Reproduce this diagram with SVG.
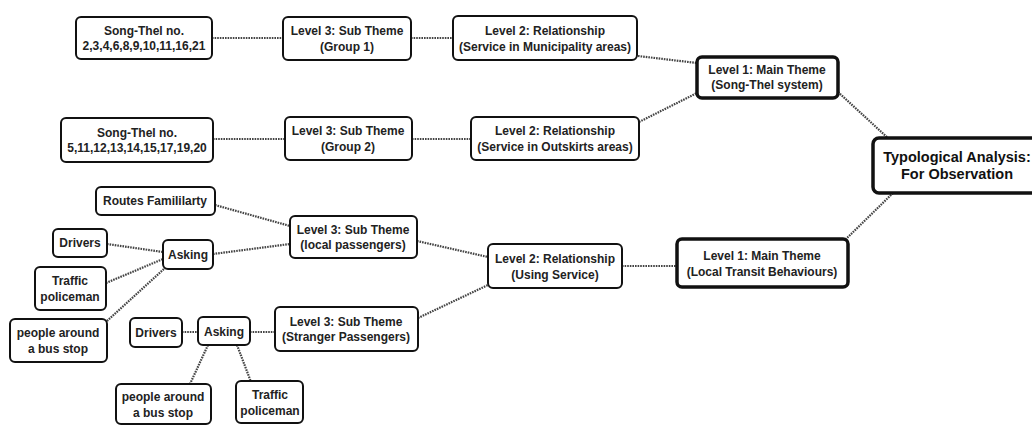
<svg xmlns="http://www.w3.org/2000/svg" width="1032" height="425" viewBox="0 0 1032 425">
<style>
.b{fill:#fff;stroke:#111;stroke-width:2}
.k{fill:#fff;stroke:#111;stroke-width:3.5}
.t{font-family:"Liberation Sans",Arial,sans-serif;font-weight:bold;font-size:12px;fill:#222;text-anchor:middle}
.tl{font-family:"Liberation Sans",Arial,sans-serif;font-weight:bold;font-size:14.5px;fill:#111;text-anchor:middle}
.c line{stroke:#444;stroke-width:2.2;stroke-dasharray:1.6 1}
</style>
<rect width="1032" height="425" fill="#fff"/>
<g class="c" id="connectors">
<line x1="212" y1="38" x2="283" y2="38"/>
<line x1="411" y1="38" x2="453" y2="38"/>
<line x1="638" y1="56" x2="697" y2="63"/>
<line x1="639" y1="122" x2="697" y2="93"/>
<line x1="213" y1="139" x2="285" y2="139"/>
<line x1="412" y1="139" x2="471" y2="139"/>
<line x1="838" y1="92" x2="889" y2="139"/>
<line x1="893" y1="193" x2="845" y2="240"/>
<line x1="622" y1="266" x2="677" y2="266"/>
<line x1="417" y1="241" x2="488" y2="257"/>
<line x1="418" y1="318" x2="488" y2="285"/>
<line x1="215" y1="205" x2="290" y2="226"/>
<line x1="213" y1="254" x2="290" y2="244"/>
<line x1="107" y1="244" x2="163" y2="252"/>
<line x1="106" y1="283" x2="163" y2="259"/>
<line x1="107" y1="321" x2="165" y2="268"/>
<line x1="182" y1="332" x2="198" y2="332"/>
<line x1="250" y1="332" x2="275" y2="332"/>
<line x1="208" y1="345" x2="190" y2="384"/>
<line x1="237" y1="345" x2="251" y2="382"/>
</g>
<g id="n_songthel1"><rect class="b" x="76" y="17" width="136" height="42" rx="5"/><text class="t" x="144" y="35">Song-Thel no.</text><text class="t" x="144" y="50">2,3,4,6,8,9,10,11,16,21</text></g>
<g id="n_l3g1"><rect class="b" x="283" y="17" width="128" height="43" rx="5"/><text class="t" x="347" y="35">Level 3: Sub Theme</text><text class="t" x="347" y="51">(Group 1)</text></g>
<g id="n_l2mun"><rect class="b" x="453" y="16" width="184" height="44" rx="5"/><text class="t" x="545" y="35">Level 2: Relationship</text><text class="t" x="545" y="51">(Service in Municipality areas)</text></g>
<g id="n_l1song"><rect class="k" x="697" y="57" width="141" height="41" rx="5"/><text class="t" x="767" y="74">Level 1: Main Theme</text><text class="t" x="767" y="89">(Song-Thel system)</text></g>
<g id="n_songthel2"><rect class="b" x="61" y="118" width="152" height="44" rx="5"/><text class="t" x="137" y="137">Song-Thel no.</text><text class="t" x="137" y="152">5,11,12,13,14,15,17,19,20</text></g>
<g id="n_l3g2"><rect class="b" x="285" y="117" width="127" height="43" rx="5"/><text class="t" x="348" y="135">Level 3: Sub Theme</text><text class="t" x="348" y="151">(Group 2)</text></g>
<g id="n_l2out"><rect class="b" x="471" y="117" width="168" height="43" rx="5"/><text class="t" x="555" y="135">Level 2: Relationship</text><text class="t" x="555" y="151">(Service in Outskirts areas)</text></g>
<g id="n_typo"><rect class="k" x="873" y="138" width="170" height="55" rx="6"/><text class="tl" x="957" y="162">Typological Analysis:</text><text class="tl" x="957" y="179">For Observation</text></g>
<g id="n_l1local"><rect class="k" x="677" y="239" width="171" height="48" rx="5"/><text class="t" x="762" y="260">Level 1: Main Theme</text><text class="t" x="762" y="276">(Local Transit Behaviours)</text></g>
<g id="n_l2using"><rect class="b" x="488" y="244" width="134" height="44" rx="5"/><text class="t" x="555" y="263">Level 2: Relationship</text><text class="t" x="555" y="279">(Using Service)</text></g>
<g id="n_routes"><rect class="b" x="96" y="187" width="119" height="28" rx="5"/><text class="t" x="155" y="205">Routes Famililarty</text></g>
<g id="n_l3local"><rect class="b" x="290" y="216" width="127" height="42" rx="5"/><text class="t" x="353" y="234">Level 3: Sub Theme</text><text class="t" x="353" y="249">(local passengers)</text></g>
<g id="n_drivers1"><rect class="b" x="53" y="229" width="54" height="28" rx="5"/><text class="t" x="80" y="247">Drivers</text></g>
<g id="n_asking1"><rect class="b" x="163" y="240" width="50" height="29" rx="5"/><text class="t" x="188" y="259">Asking</text></g>
<g id="n_traffic1"><rect class="b" x="35" y="267" width="71" height="43" rx="5"/><text class="t" x="70" y="285">Traffic</text><text class="t" x="70" y="301">policeman</text></g>
<g id="n_people1"><rect class="b" x="10" y="319" width="97" height="43" rx="5"/><text class="t" x="58" y="337">people around</text><text class="t" x="58" y="353">a bus stop</text></g>
<g id="n_l3stranger"><rect class="b" x="275" y="307" width="143" height="44" rx="5"/><text class="t" x="346" y="326">Level 3: Sub Theme</text><text class="t" x="346" y="341">(Stranger Passengers)</text></g>
<g id="n_drivers2"><rect class="b" x="130" y="318" width="52" height="29" rx="5"/><text class="t" x="156" y="337">Drivers</text></g>
<g id="n_asking2"><rect class="b" x="198" y="317" width="52" height="28" rx="5"/><text class="t" x="224" y="336">Asking</text></g>
<g id="n_people2"><rect class="b" x="116" y="384" width="95" height="40" rx="5"/><text class="t" x="163" y="401">people around</text><text class="t" x="163" y="417">a bus stop</text></g>
<g id="n_traffic2"><rect class="b" x="236" y="381" width="67" height="42" rx="5"/><text class="t" x="270" y="399">Traffic</text><text class="t" x="270" y="415">policeman</text></g>
</svg>
